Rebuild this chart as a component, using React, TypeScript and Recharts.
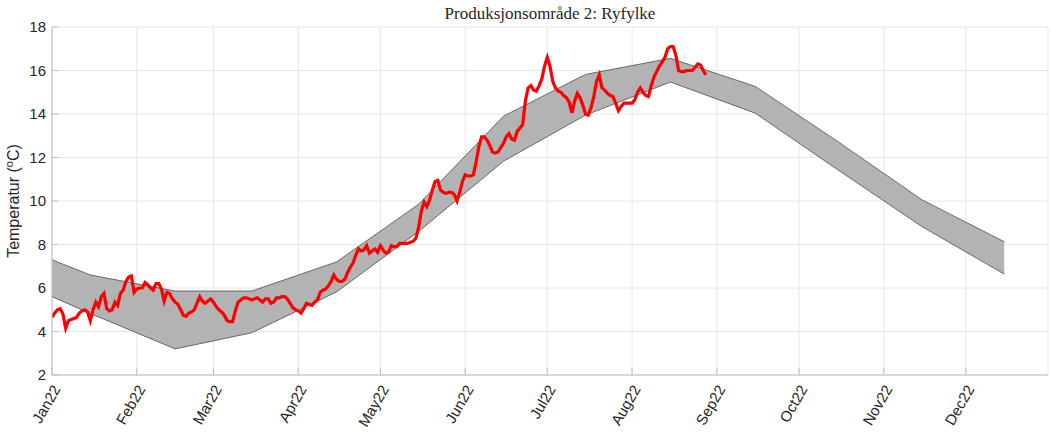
import { ComposedChart, Area, Line, XAxis, YAxis, CartesianGrid } from 'recharts'

// day-of-year of the first of each month, and their labels
const monthStarts = [0, 31, 59, 90, 120, 151, 181, 212, 243, 273, 304, 334]
const monthLabels = ['Jan22', 'Feb22', 'Mar22', 'Apr22', 'May22', 'Jun22', 'Jul22', 'Aug22', 'Sep22', 'Oct22', 'Nov22', 'Dec22']
const yTicks = [2, 4, 6, 8, 10, 12, 14, 16, 18]

// normal-range band: Jan 1 then the 15th of each month
const bandDays = [0, 14, 45, 73, 104, 134, 165, 195, 226, 257, 287, 318, 348]
const bandLow = [5.6, 4.83, 3.2, 3.94, 5.82, 8.6, 11.83, 13.95, 15.47, 14.04, 11.45, 8.82, 6.64]
const bandHigh = [7.3, 6.6, 5.86, 5.86, 7.2, 9.85, 13.9, 15.82, 16.56, 15.27, 12.75, 10.05, 8.13]

// daily temperature 2022, from Jan 1
const dailyTemp = [
  4.65, 4.85, 5.0, 5.05, 4.8, 4.15, 4.5, 4.55, 4.6, 4.65,
  4.85, 4.95, 5.0, 4.9, 4.5, 5.0, 5.35, 5.15, 5.6, 5.75,
  5.05, 4.95, 5.0, 5.35, 5.2, 5.75, 5.9, 6.3, 6.5, 6.55,
  5.8, 5.95, 6.0, 6.0, 6.25, 6.15, 6.0, 5.9, 6.2, 6.2,
  5.95, 5.4, 5.8, 5.75, 5.5, 5.35, 5.25, 5.0, 4.75, 4.7,
  4.85, 4.9, 5.0, 5.3, 5.6, 5.4, 5.3, 5.4, 5.5, 5.35,
  5.15, 5.0, 4.9, 4.75, 4.5, 4.45, 4.45, 4.95, 5.35, 5.45,
  5.55, 5.55, 5.5, 5.45, 5.5, 5.55, 5.45, 5.35, 5.5, 5.5,
  5.3, 5.35, 5.55, 5.55, 5.6, 5.6, 5.5, 5.3, 5.1, 5.0,
  4.95, 4.85, 5.05, 5.3, 5.25, 5.2, 5.35, 5.45, 5.8, 5.9,
  5.95, 6.1, 6.3, 6.6, 6.4, 6.3, 6.3, 6.4, 6.7, 6.95,
  7.15, 7.5, 7.8, 7.7, 7.75, 7.95, 7.6, 7.7, 7.8, 7.65,
  7.95, 7.75, 7.6, 7.65, 7.95, 7.9, 7.9, 8.05, 8.05, 8.05,
  8.05, 8.1, 8.15, 8.3, 8.8, 9.55, 9.95, 9.75, 10.05, 10.5,
  10.9, 10.95, 10.5, 10.4, 10.35, 10.4, 10.4, 10.3, 10.0, 10.4,
  10.9, 11.2, 11.15, 11.15, 11.2, 11.8, 12.5, 12.95, 12.95, 12.8,
  12.55, 12.25, 12.2, 12.25, 12.45, 12.65, 12.95, 13.1, 12.85, 12.8,
  13.2, 13.35, 13.5, 14.6, 15.2, 15.3, 15.1, 15.05, 15.3, 15.6,
  16.2, 16.6, 16.2, 15.5, 15.2, 15.05, 15.0, 14.85, 14.75, 14.55,
  14.05, 14.6, 14.95, 14.75, 14.4, 14.0, 13.95, 14.3, 14.8, 15.5,
  15.8, 15.2, 15.1, 14.95, 14.85, 14.8, 14.5, 14.15, 14.35, 14.5,
  14.5, 14.5, 14.5, 14.65, 15.0, 15.2, 15.0, 14.85, 14.8, 15.3,
  15.7, 15.95, 16.2, 16.4, 16.6, 17.0, 17.1, 17.1, 16.7, 16.0,
  15.95, 15.95, 16.0, 16.0, 16.0, 16.15, 16.3, 16.25, 16.0, 15.8,
]

type Row = { day: number; temp?: number; band?: [number, number] }

const rows: Row[] = []
for (let d = 0; d <= 348; d++) {
  const bi = bandDays.indexOf(d)
  const row: Row = { day: d }
  if (d < dailyTemp.length) row.temp = dailyTemp[d]
  if (bi >= 0) row.band = [bandLow[bi], bandHigh[bi]]
  if (row.temp !== undefined || row.band !== undefined) rows.push(row)
}

const TEXT = '#262626'
const AXIS = '#bdbdbd'
const FONT = '"Liberation Sans", Arial, Helvetica, sans-serif'

function XTick(props: any) {
  const { x, y, payload } = props
  const i = monthStarts.indexOf(payload.value)
  return (
    <g>
      <line x1={x} x2={x} y1={y - 2} y2={y - 9} stroke={AXIS} />
      <text
        x={x + 9}
        y={y + 12}
        textAnchor="end"
        transform={`rotate(-60, ${x + 9}, ${y + 12})`}
        fill={TEXT}
        fontSize={15}
        fontFamily={FONT}
      >
        {monthLabels[i]}
      </text>
    </g>
  )
}

function YTick(props: any) {
  const { x, y, payload } = props
  return (
    <g>
      <line x1={x + 6} x2={x + 12} y1={y} y2={y} stroke={AXIS} />
      <text x={x} y={y + 5} textAnchor="end" fill={TEXT} fontSize={15} fontFamily={FONT}>
        {payload.value}
      </text>
    </g>
  )
}

function TopTick(props: any) {
  const { x, y } = props
  return <line x1={x} x2={x} y1={y} y2={y + 6} stroke={AXIS} />
}

function RightTick(props: any) {
  const { x, y } = props
  return <line x1={x} x2={x - 6} y1={y} y2={y} stroke={AXIS} />
}

function YLabel(props: any) {
  const vb = props.viewBox
  const cx = 19
  const cy = vb.y + vb.height / 2
  return (
    <text
      x={cx}
      y={cy}
      textAnchor="middle"
      transform={`rotate(-90, ${cx}, ${cy})`}
      fill={TEXT}
      fontSize={16}
      fontFamily={FONT}
    >
      Temperatur (<tspan dy={-6} fontSize={11}>o</tspan>
      <tspan dy={6}>C)</tspan>
    </text>
  )
}

export default function App() {
  return (
    <div style={{ position: 'absolute', left: 0, top: 0, width: 1051, height: 437, background: '#fff' }}>
      <div
        style={{
          position: 'absolute',
          left: 52,
          width: 996,
          top: 4,
          textAlign: 'center',
          fontFamily: '"Liberation Serif", "Times New Roman", serif',
          fontSize: 17,
          color: TEXT,
        }}
      >
        Produksjonsområde 2: Ryfylke
      </div>
      <ComposedChart width={1051} height={437} data={rows} margin={{ top: 27, right: 3, bottom: 7, left: 8 }}>
        <CartesianGrid stroke="#e6e6e6" vertical horizontal />
        <XAxis
          dataKey="day"
          type="number"
          domain={[0, 364]}
          ticks={monthStarts}
          interval={0}
          height={55}
          stroke={AXIS}
          tickLine={false}
          tickSize={0}
          tickMargin={2}
          tick={<XTick />}
          allowDataOverflow
        />
        <XAxis
          xAxisId="top"
          orientation="top"
          dataKey="day"
          type="number"
          domain={[0, 364]}
          ticks={monthStarts}
          interval={0}
          height={0}
          stroke={AXIS}
          tickLine={false}
          tickSize={0}
          tickMargin={0}
          tick={<TopTick />}
          allowDataOverflow
        />
        <YAxis
          type="number"
          domain={[2, 18]}
          ticks={yTicks}
          interval={0}
          width={44}
          stroke={AXIS}
          tickLine={false}
          tickSize={0}
          tickMargin={6}
          tick={<YTick />}
          allowDataOverflow
          label={<YLabel />}
        />
        <YAxis
          yAxisId="right"
          orientation="right"
          type="number"
          domain={[2, 18]}
          ticks={yTicks}
          interval={0}
          width={0}
          stroke={AXIS}
          tickLine={false}
          tickSize={0}
          tickMargin={0}
          tick={<RightTick />}
          allowDataOverflow
        />
        <Area
          dataKey="band"
          type="linear"
          fill="#b3b3b3"
          fillOpacity={1}
          stroke="#4d4d4d"
          strokeWidth={0.8}
          connectNulls
          dot={false}
          activeDot={false}
          isAnimationActive={false}
        />
        <Line
          dataKey="temp"
          type="linear"
          stroke="#ff0000"
          strokeWidth={3.2}
          dot={false}
          activeDot={false}
          connectNulls
          isAnimationActive={false}
        />
      </ComposedChart>
    </div>
  )
}
